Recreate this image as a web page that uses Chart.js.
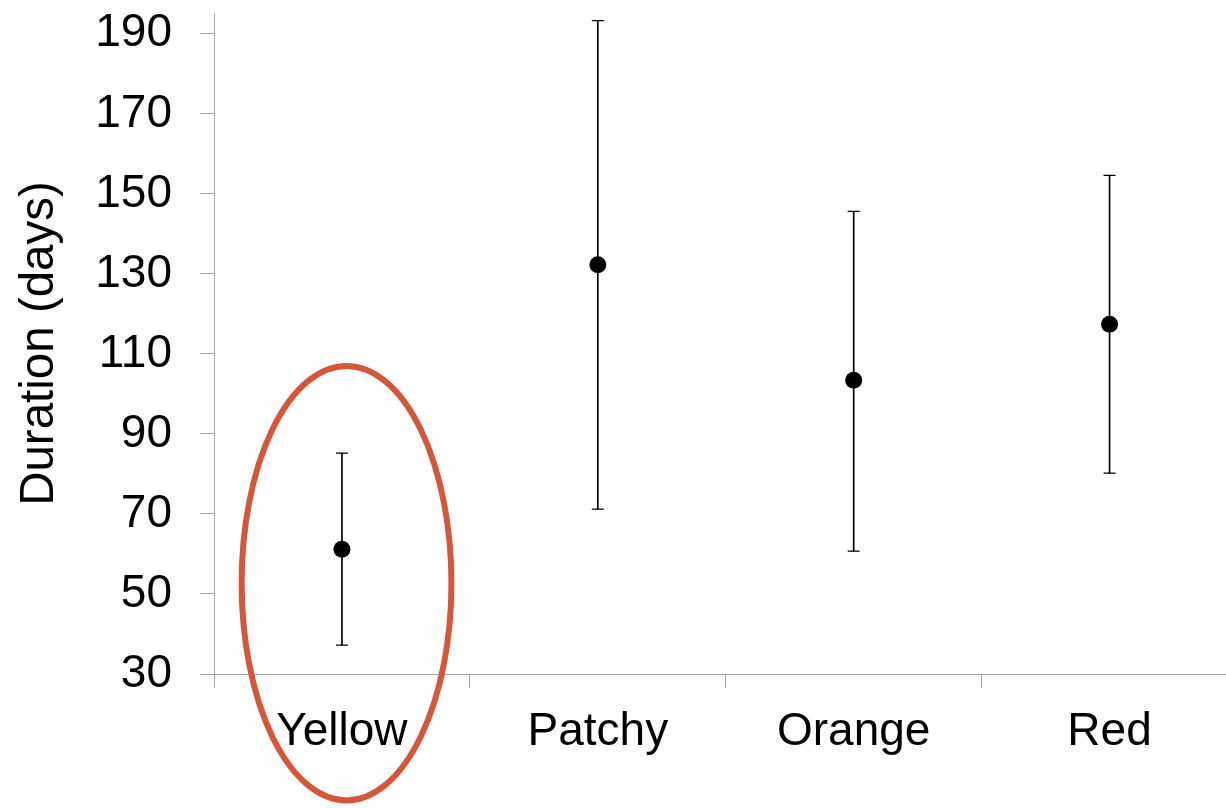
<!DOCTYPE html>
<html>
<head>
<meta charset="utf-8">
<script src="https://cdn.jsdelivr.net/npm/chart.js@4.4.1/dist/chart.umd.min.js"></script>
<style>
  html, body { margin: 0; padding: 0; background: #fff; overflow: hidden; }
  #grafico { display: block; }
</style>
</head>
<body>
<canvas id="grafico" width="1246" height="808"></canvas>
<script>
const categorias = ["Yellow", "Patchy", "Orange", "Red"];
const medias = [61.2, 132.3, 103.4, 117.4];
const minimos = [37.2, 71.2, 60.7, 80.2];
const maximos = [85.2, 193.3, 145.6, 154.6];
const ticksY = [30, 50, 70, 90, 110, 130, 150, 170, 190];
const tituloY = "Duration (days)";

// elipse de destaque, em unidades do grafico (categoria / valor)
const destaque = { categoria: 0.018, centro: 52.7, meiaAltura: 54.3, meiaLargura: 0.41 };

const fonte = { family: "'Liberation Sans', Arial, sans-serif", size: 46 };
const cinza = '#a6a6a6';

const pluginElipse = {
    id: 'elipse',
    afterDraw(chart) {
        const { ctx, scales: { x, y } } = chart;
        const larg = x.getPixelForValue(1) - x.getPixelForValue(0);
        const cx = x.getPixelForValue(0) + destaque.categoria * larg;
        const cy = y.getPixelForValue(destaque.centro);
        const ry = cy - y.getPixelForValue(destaque.centro + destaque.meiaAltura);
        const rx = larg * destaque.meiaLargura;
        ctx.save();
        ctx.beginPath();
        ctx.ellipse(cx, cy, rx, ry, 0, 0, 2 * Math.PI);
        ctx.strokeStyle = '#d5573b';
        ctx.lineWidth = 6;
        ctx.stroke();
        ctx.restore();
    }
};

const ctx = document.getElementById('grafico').getContext('2d');
const grafico = new Chart(ctx, {
    type: 'bar',
    data: {
        labels: categorias,
        datasets: [
            {
                // barras de erro (linha vertical)
                type: 'bar',
                data: minimos.map((v, i) => [v, maximos[i]]),
                backgroundColor: '#000',
                borderWidth: 0,
                barThickness: 1,
                order: 3
            },
            {
                type: 'line',
                data: maximos,
                showLine: false,
                pointStyle: 'line',
                pointRadius: 6,
                borderColor: '#000',
                borderWidth: 1.3,
                order: 2
            },
            {
                type: 'line',
                data: minimos,
                showLine: false,
                pointStyle: 'line',
                pointRadius: 6,
                borderColor: '#000',
                borderWidth: 1.3,
                order: 2
            },
            {
                type: 'line',
                data: medias,
                showLine: false,
                pointStyle: 'circle',
                pointRadius: 8.5,
                backgroundColor: '#000',
                borderWidth: 0,
                order: 1
            }
        ]
    },
    options: {
        responsive: false,
        animation: false,
        layout: { padding: { top: 13, right: 2, left: 0, bottom: 0 } },
        plugins: {
            legend: { display: false },
            tooltip: { enabled: false }
        },
        scales: {
            x: {
                offset: true,
                afterFit: s => { s.height = 134; s.paddingLeft = 0; s.paddingRight = 0; },
                grid: { offset: true, drawOnChartArea: false, tickLength: 14, color: cinza },
                border: { color: cinza, width: 1 },
                ticks: { font: fonte, color: '#000', padding: 17, maxRotation: 0 }
            },
            y: {
                min: 30,
                max: 195.2,
                afterBuildTicks: s => { s.ticks = ticksY.map(v => ({ value: v })); },
                afterFit: s => { s.width = 214; s.paddingTop = 0; s.paddingBottom = 0; },
                grid: { drawOnChartArea: false, tickLength: 14, color: cinza },
                border: { color: cinza, width: 1 },
                ticks: { font: fonte, color: '#000', padding: 28 },
                title: {
                    display: true,
                    text: tituloY,
                    font: { family: fonte.family, size: 47.5 },
                    color: '#000',
                    padding: { top: 11, bottom: 0 }
                }
            }
        }
    },
    plugins: [pluginElipse]
});
</script>
</body>
</html>
